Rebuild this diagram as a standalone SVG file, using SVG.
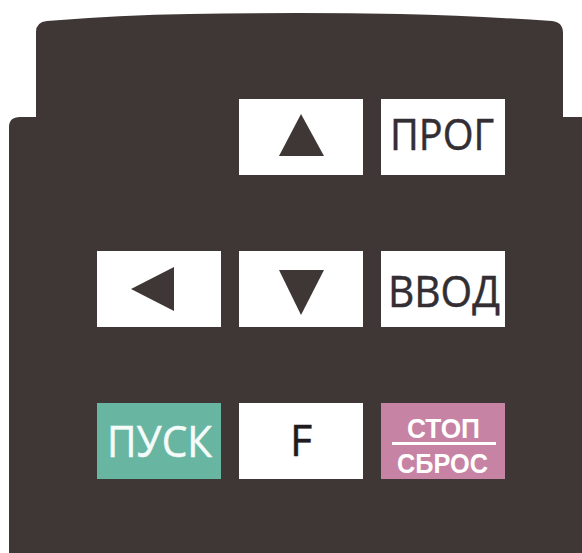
<svg xmlns="http://www.w3.org/2000/svg" width="582" height="553" viewBox="0 0 582 553">
<style>
.k{fill:#fff}
.t{font-family:"Open Sans","Noto Sans",sans-serif;text-anchor:middle;fill:#332e33;stroke:#332e33;stroke-width:.5px}
.b{font-size:43px}
.l{fill:#f4fbf9;stroke:#f4fbf9}
.w{font-family:"Liberation Sans",Arial,sans-serif;font-weight:700;text-anchor:middle;fill:#fff;font-size:27px}
.g{fill:#3f3736}
</style>
<rect width="582" height="553" fill="#fff"/>
<path id="body" class="g" d="M9 553V127Q9 117 20 117H36V32Q36 22 47 21Q120 15 190 14Q300 12 400 14Q480 16 552 21Q563 22 563 33V117H582V553Z"/>
<g id="up"><rect class="k" x="239" y="99" width="124" height="76"/><path class="g" d="M301 114L324 156H279Z"/></g>
<g id="prog"><rect class="k" x="381" y="99" width="124" height="76"/><text class="t b" x="442" y="150" textLength="104" lengthAdjust="spacingAndGlyphs">ПРОГ</text></g>
<g id="left"><rect class="k" x="97" y="251" width="124" height="76"/><path class="g" d="M131 289L174 267V311Z"/></g>
<g id="down"><rect class="k" x="239" y="251" width="124" height="76"/><path class="g" d="M279 270H324L301 315Z"/></g>
<g id="enter"><rect class="k" x="381" y="251" width="124" height="76"/><text class="t b" x="444" y="307" textLength="112" lengthAdjust="spacingAndGlyphs">ВВОД</text></g>
<g id="run"><rect x="97" y="403" width="124" height="76" fill="#68b5a2"/><text class="t b l" x="159.500" y="457" textLength="105" lengthAdjust="spacingAndGlyphs">ПУСК</text></g>
<g id="f"><rect class="k" x="239" y="403" width="124" height="76"/><text class="t" x="301" y="456" font-size="43" style="fill:#1f1b1e;stroke:#1f1b1e">F</text></g>
<g id="stop"><rect x="381" y="403" width="124" height="76" fill="#c783a3"/><text class="w" x="443.500" y="438" textLength="73" lengthAdjust="spacingAndGlyphs">СТОП</text><rect class="k" x="392" y="442" width="104" height="3"/><text class="w" x="442.500" y="473" textLength="91" lengthAdjust="spacingAndGlyphs">СБРОС</text></g>
</svg>
